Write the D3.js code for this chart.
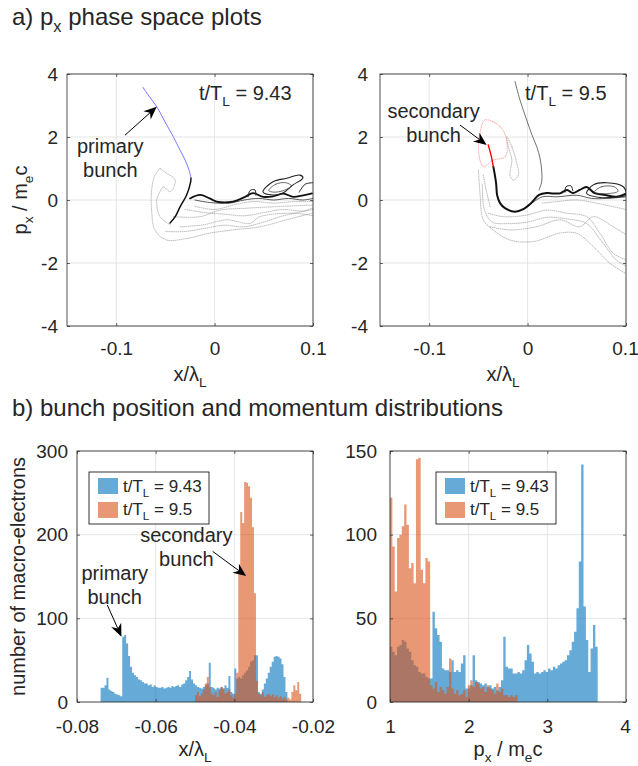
<!DOCTYPE html>
<html>
<head>
<meta charset="utf-8">
<script src="https://cdn.jsdelivr.net/npm/d3@7"></script>
<style>
  body { margin: 0; background: #fff; }
  text { font-family: "Liberation Sans", Arial, Helvetica, sans-serif; fill: #262626; }
</style>
</head>
<body>
<div id="chart"></div>
<script>
const width = 638
const height = 766

// ---------- ticks ----------
const phaseXTicks = [-0.1, 0, 0.1]
const phasePTicks = [-4, -2, 0, 2, 4]
const posXTicks = [-0.08, -0.06, -0.04, -0.02]
const posYTicks = [0, 100, 200, 300]
const momXTicks = [1, 2, 3, 4]
const momYTicks = [0, 50, 100, 150]
const times = ["9.43", "9.5"]

// ---------- a) phase space, t/TL = 9.43  ([x/lambda, px/mec]) ----------
const primaryBunch943 = [[-0.073,3.58],[-0.0667,3.30],[-0.0588,2.96],[-0.0504,2.48],[-0.042,2.01],[-0.0352,1.59],[-0.030,1.27],[-0.026,0.95],[-0.024,0.70]]
const spine943 = [[-0.024,0.70],[-0.0245,0.55],[-0.0284,0.16],[-0.035,-0.21],[-0.040,-0.53],[-0.0453,-0.73]]
const band943 = [[-0.025,0.05],[-0.0148,0.16],[-0.005,0.05],[0.002,-0.05],[0.0187,-0.05],[0.031,0.1],[0.039,0.22],[0.0495,0.1],[0.06,0.12],[0.07,0.2],[0.08,0.1],[0.09,0.15],[0.099,0.21]]
const band943b = [[-0.02,0.0],[-0.005,-0.08],[0.015,-0.1],[0.03,0.0],[0.045,0.05],[0.06,0.0],[0.075,0.05],[0.09,0.0],[0.1,0.05]]
const loop943 = [[0.0492,0.26],[0.0593,0.58],[0.0733,0.69],[0.0868,0.79],[0.0898,0.70],[0.0797,0.48],[0.0695,0.22],[0.0593,0.16]]
const innerLoop943 = [[0.055,0.3],[0.062,0.5],[0.072,0.55],[0.078,0.45],[0.07,0.3],[0.06,0.25]]
const curls943 = [[0.034,0.1],[0.036,0.3],[0.041,0.32],[0.042,0.15]]
const edgeLoop943 = [[0.086,0.25],[0.092,0.5],[0.1,0.55]]
const outer943 = [[-0.0555,1.0],[-0.0606,0.79],[-0.064,0.32],[-0.064,-0.32],[-0.0606,-0.95],[-0.0487,-1.27],[-0.0284,-1.22],[-0.0047,-1.05],[0.0187,-0.95],[0.046,-0.85],[0.073,-0.63],[0.1,-0.41]]
const hook943 = [[-0.0555,1.0],[-0.0487,0.85],[-0.040,0.63],[-0.045,0.26],[-0.052,0.42],[-0.0555,0.26],[-0.0588,0],[-0.0555,-0.53],[-0.045,-0.79]]
const fil943a = [[-0.042,-0.53],[-0.0148,-0.53],[0.0055,-0.32],[0.0326,-0.26],[0.063,-0.21],[0.1,-0.16]]
const fil943b = [[-0.0352,-0.85],[-0.0115,-0.79],[0.0123,-0.63],[0.036,-0.74],[0.046,-0.53],[0.08,-0.42],[0.1,-0.5]]
const fil943c = [[-0.02,-0.2],[0.0,-0.3],[0.02,-0.15],[0.04,-0.05],[0.06,-0.1],[0.08,-0.05],[0.1,-0.05]]
const fil943d = [[-0.05,-1.0],[-0.03,-1.0],[-0.01,-0.9],[0.01,-0.8],[0.03,-0.85],[0.05,-0.7],[0.07,-0.5],[0.1,-0.3]]
const fil943e = [[-0.03,-0.3],[-0.01,-0.4],[0.01,-0.45],[0.03,-0.5],[0.05,-0.4],[0.07,-0.3],[0.09,-0.35],[0.1,-0.25]]

// ---------- a) phase space, t/TL = 9.5 ----------
const escaping95 = [[-0.0128,3.76],[-0.0077,3.17],[-0.0009,2.54],[0.0045,2.06],[0.0093,1.69],[0.0126,1.33],[0.0143,0.95],[0.0143,0.58],[0.0116,0.32]]
const secondaryBunch95 = [[-0.0348,1.06],[-0.037,1.4],[-0.040,1.75]]
const spine95 = [[-0.0348,1.06],[-0.032,0.53],[-0.031,0.16],[-0.028,-0.1],[-0.023,-0.26],[-0.0128,-0.37],[-0.0044,-0.29],[0.0035,-0.1],[0.0116,0.16],[0.0194,0.22],[0.0258,0.21],[0.033,0.21],[0.040,0.32],[0.046,0.22],[0.053,0.32],[0.060,0.41],[0.068,0.22],[0.0787,0.16],[0.09,0.1],[0.1,0.2]]
const band95b = [[0.0,-0.2],[0.015,0.1],[0.03,0.1],[0.05,0.15],[0.065,0.05],[0.08,0.05],[0.1,0.1]]
const loop95 = [[0.06,0.21],[0.0668,0.48],[0.0804,0.55],[0.0973,0.42],[0.1,0.16],[0.0905,0.1],[0.0736,0.08]]
const innerLoop95 = [[0.068,0.25],[0.075,0.42],[0.088,0.42],[0.092,0.28],[0.08,0.2]]
const curl95 = [[0.038,0.25],[0.039,0.42],[0.044,0.45],[0.046,0.3]]
const redCloud95 = [[-0.0433,2.54],[-0.028,2.33],[-0.0212,1.9],[-0.023,1.37],[-0.0348,1.27],[-0.045,1.06],[-0.050,1.59],[-0.0484,2.12]]
const tongue95 = [[-0.0212,2.01],[-0.016,1.69],[-0.011,1.16],[-0.0094,0.79],[-0.0145,0.63],[-0.0179,0.79],[-0.016,1.27],[-0.0196,1.69]]
const outer95 = [[-0.050,0.95],[-0.0484,0.21],[-0.045,-0.63],[-0.035,-0.95],[-0.0179,-1.27],[0.0058,-1.32],[0.033,-1.05],[0.05,-1.06],[0.0668,-1.48],[0.0837,-2.01],[0.099,-2.32]]
const fil95a = [[-0.040,-0.42],[-0.0247,-0.53],[-0.0009,-0.48],[0.0194,-0.32],[0.0397,-0.42],[0.06,-0.53],[0.0736,-1.06],[0.087,-1.69],[0.1,-1.9]]
const fil95b = [[-0.0382,-0.85],[-0.018,-0.95],[0.009,-0.85],[0.033,-0.63],[0.053,-0.85],[0.0668,-0.53],[0.087,-0.85],[0.1,-1.1]]
const fil95c = [[0.015,-0.1],[0.03,-0.05],[0.05,0.0],[0.07,-0.1],[0.085,-0.2],[0.1,-0.3]]
const fil95d = [[-0.046,0.5],[-0.044,-0.3],[-0.036,-0.7],[-0.02,-0.75],[0.0,-0.7],[0.02,-0.55],[0.04,-0.6],[0.06,-0.75],[0.075,-1.3],[0.09,-1.9],[0.1,-2.1]]
const hook95 = [[-0.045,0.79],[-0.042,0.3],[-0.038,-0.21]]

// ---------- b) histograms (counts per bin) ----------
const posBinWidth = 0.0005
const posStart943 = -0.074
const posCounts943 = [17,17,20,29,15,13,12,10,9,8, 7,78,80,70,55,42,35,32,30,27, 26,24,22,22,20,21,18,20,18,17,
  17,18,16,17,18,17,19,18,19,20, 18,21,22,26,30,37,27,22,20,18, 17,16,18,20,22,47,18,17,15,17,
  16,18,16,20,17,31,12,10,40,28, 30,28,32,35,38,42,48,50,56,56, 12,10,15,22,28,35,42,48,54,55,
  54,52,45,30,12]
const posStart95 = -0.05
const posCounts95 = [8,12,7,10,15,22,30,18,10,8, 12,6,14,18,16,10,12,15,8,5, 10,35,154,227,214,263,262,258,244,209,
  130,25,10,8,12,6,8,10,7,9, 6,8,5,7,4,6,3,5,3,12, 20,14,24,10]

const momBinWidth = 0.03
const momStart = 1
const momCounts943 = [33,30,28,33,34,37,36,32,30,25, 22,21,18,17,17,15,14,14,54,44, 40,36,20,19,19,18,25,18,19,18,
  23,28,8,8,10,28,13,12,11,10, 11,9,10,8,9,7,9,13,39,21, 20,20,17,17,18,17,19,25,34,29,
  24,17,18,17,18,19,18,20,19,21, 20,22,23,24,25,28,31,36,42,56, 84,142,57,37,18,32,46,33]
const momCounts95 = [122,93,66,98,100,105,118,106,80,83, 71,145,146,79,71,86,84,10,8,12, 6,9,7,5,9,26,8,5,7,4,
  5,7,3,10,13,9,12,11,8,9, 6,10,8,7,5,11,6,8,4,4, 3,4,3,4]

// ---------- layout ----------
const blue = "rgb(0,114,189)"
const orange = "rgb(217,83,25)"
const axisColor = "#262626"
const gridColor = "#dedede"

const boxA1 = {left: 67, right: 313, top: 74, bottom: 326}
const boxA2 = {left: 380, right: 626, top: 74, bottom: 326}
const boxB1 = {left: 77, right: 313, top: 451, bottom: 702}
const boxB2 = {left: 390, right: 626, top: 451, bottom: 702}

const svg = d3.select("#chart")
              .append("svg")
              .attr("width", width)
              .attr("height", height)

// text with sub-scripts: parts = [[string, isSub], ...]
function richText(g, x, y, parts, size, anchor) {
  const t = g.append("text")
             .attr("x", x)
             .attr("y", y)
             .attr("font-size", size)
             .attr("text-anchor", anchor || "start")
  let shift = 0
  parts.forEach(([s, sub]) => {
    const target = sub ? size * 0.3 : 0
    t.append("tspan")
     .attr("dy", target - shift)
     .attr("font-size", sub ? size * 0.68 : size)
     .text(s)
    shift = target
  })
  return t
}

function makeScales(box, xDom, yDom) {
  const x = d3.scaleLinear().domain(xDom).range([box.left, box.right])
  const y = d3.scaleLinear().domain(yDom).range([box.bottom, box.top])
  return {x, y}
}

function drawGrid(box, s, xTicks, yTicks) {
  const g = svg.append("g")
  g.selectAll("line.gx")
   .data(xTicks)
   .enter()
   .append("line")
   .attr("x1", d => s.x(d)).attr("x2", d => s.x(d))
   .attr("y1", box.top).attr("y2", box.bottom)
   .attr("stroke", gridColor).attr("stroke-width", 0.8)
  g.selectAll("line.gy")
   .data(yTicks)
   .enter()
   .append("line")
   .attr("y1", d => s.y(d)).attr("y2", d => s.y(d))
   .attr("x1", box.left).attr("x2", box.right)
   .attr("stroke", gridColor).attr("stroke-width", 0.8)
}

function drawFrame(box, s, xTicks, yTicks, xPad, yPad) {
  const fmt = d => String(d)
  const style = g => {
    g.select(".domain").remove()
    g.attr("font-size", 19).attr("font-family", null).attr("color", axisColor)
    g.selectAll("line").attr("stroke-width", 0.7)
  }
  const bottom = svg.append("g").attr("transform", `translate(0,${box.bottom})`)
     .call(d3.axisBottom(s.x).tickValues(xTicks).tickSize(-3).tickSizeOuter(0).tickPadding(xPad).tickFormat(fmt))
     .call(style)
  // keep the last label inside the page
  bottom.selectAll("text").filter(d => s.x(d) + 14 > width).attr("dx", width - 13 - s.x(xTicks[xTicks.length - 1]))
  svg.append("g").attr("transform", `translate(0,${box.top})`)
     .call(d3.axisTop(s.x).tickValues(xTicks).tickSize(-3).tickSizeOuter(0).tickFormat(""))
     .call(style)
  svg.append("g").attr("transform", `translate(${box.left},0)`)
     .call(d3.axisLeft(s.y).tickValues(yTicks).tickSize(-3).tickSizeOuter(0).tickPadding(yPad).tickFormat(fmt))
     .call(style)
  svg.append("g").attr("transform", `translate(${box.right},0)`)
     .call(d3.axisRight(s.y).tickValues(yTicks).tickSize(-3).tickSizeOuter(0).tickFormat(""))
     .call(style)
  svg.append("rect")
     .attr("x", box.left).attr("y", box.top)
     .attr("width", box.right - box.left).attr("height", box.bottom - box.top)
     .attr("fill", "none").attr("stroke", axisColor).attr("stroke-width", 0.8)
}

function drawCurves(box, s, list, id) {
  svg.append("clipPath").attr("id", id)
     .append("rect")
     .attr("x", box.left).attr("y", box.top)
     .attr("width", box.right - box.left).attr("height", box.bottom - box.top)
  const g = svg.append("g").attr("clip-path", `url(#${id})`)
  list.forEach(c => {
    const line = d3.line()
                   .x(d => s.x(d[0]))
                   .y(d => s.y(d[1]))
                   .curve(c.closed ? d3.curveCatmullRomClosed : d3.curveCatmullRom)
    g.append("path")
     .datum(c.pts)
     .attr("d", line)
     .attr("fill", "none")
     .attr("stroke", c.color)
     .attr("stroke-width", c.w)
     .attr("stroke-dasharray", c.dash || null)
     .attr("stroke-linecap", "round")
  })
}

function histArea(s, start, bw, counts, color) {
  const pts = counts.map((c, i) => [start + i * bw, c])
  pts.push([start + counts.length * bw, counts[counts.length - 1]])
  const area = d3.area()
                 .x(d => s.x(d[0]))
                 .y0(s.y(0))
                 .y1(d => s.y(d[1]))
                 .curve(d3.curveStepAfter)
  svg.append("path").datum(pts).attr("d", area).attr("fill", color).attr("fill-opacity", 0.6)
}

function arrow(s, from, to) {
  const x1 = s.x(from[0]), y1 = s.y(from[1]), x2 = s.x(to[0]), y2 = s.y(to[1])
  const a = Math.atan2(y2 - y1, x2 - x1)
  const L = 13, hw = 5.5, notch = 9
  const pt = (d, o) => [x2 - d * Math.cos(a) - o * Math.sin(a), y2 - d * Math.sin(a) + o * Math.cos(a)]
  const nx = pt(notch, 0)
  svg.append("line")
     .attr("x1", x1).attr("y1", y1).attr("x2", nx[0]).attr("y2", nx[1])
     .attr("stroke", "#000").attr("stroke-width", 1)
  svg.append("polygon")
     .attr("points", [[x2, y2], pt(L, hw), nx, pt(L, -hw)].map(p => p.join(",")).join(" "))
     .attr("fill", "#000")
}

function label(s, at, lines) {
  lines.forEach((txt, i) => {
    svg.append("text")
       .attr("x", s.x(at[0]))
       .attr("y", s.y(at[1]) + i * 24)
       .attr("font-size", 20)
       .attr("text-anchor", "middle")
       .attr("fill", "#000")
       .text(txt)
  })
}

function legend(box, dx, dy) {
  const g = svg.append("g").attr("transform", `translate(${box.left + dx},${box.top + dy})`)
  g.append("rect").attr("width", 120).attr("height", 52)
   .attr("fill", "#fff").attr("stroke", "#000").attr("stroke-width", 0.8)
  const cols = [blue, orange]
  times.forEach((t, i) => {
    g.append("rect").attr("x", 9).attr("y", 6 + i * 24).attr("width", 20).attr("height", 16)
     .attr("fill", cols[i]).attr("fill-opacity", 0.6)
    richText(g, 34, 20 + i * 23, [["t/T", false], ["L", true], [" = " + t, false]], 17)
  })
}

// ---------- titles ----------
richText(svg, 12, 25, [["a) p", false], ["x", true], [" phase space plots", false]], 24)
richText(svg, 12, 416, [["b) bunch position and momentum distributions", false]], 24)

const grey = "#8a8a8a", dots = "0.8 1.3"
const g6 = {color: grey, w: 0.6, dash: dots}

// ---------- a) left ----------
const sA1 = makeScales(boxA1, [-0.15, 0.1], [-4, 4])
drawGrid(boxA1, sA1, phaseXTicks, phasePTicks)
drawCurves(boxA1, sA1, [
  {...g6, pts: outer943},
  {...g6, pts: hook943},
  {...g6, pts: fil943a},
  {...g6, pts: fil943b},
  {...g6, pts: fil943c},
  {...g6, pts: fil943d},
  {...g6, pts: fil943e},
  {pts: band943b, color: "#333", w: 0.8},
  {pts: band943, color: "#111", w: 1.8},
  {pts: loop943, color: "#222", w: 1.1, closed: true},
  {pts: innerLoop943, color: "#444", w: 0.8, closed: true},
  {pts: curls943, color: "#222", w: 1},
  {pts: edgeLoop943, color: "#222", w: 1},
  {pts: spine943, color: "#111", w: 1.5},
  {pts: primaryBunch943, color: "#6a6aff", w: 0.9}
], "clipA1")
drawFrame(boxA1, sA1, phaseXTicks, phasePTicks, 16, 9)
richText(svg, sA1.x(-0.0159), sA1.y(3.17), [["t/T", false], ["L", true], [" = " + times[0], false]], 20)
label(sA1, [-0.106, 1.49], ["primary", "bunch"])
arrow(sA1, [-0.091, 2.06], [-0.0588, 2.96])

// ---------- a) right ----------
const sA2 = makeScales(boxA2, [-0.15, 0.1], [-4, 4])
drawGrid(boxA2, sA2, phaseXTicks, phasePTicks)
drawCurves(boxA2, sA2, [
  {...g6, pts: outer95},
  {...g6, pts: fil95a},
  {...g6, pts: fil95b},
  {...g6, pts: fil95c},
  {...g6, pts: fil95d},
  {...g6, pts: hook95},
  {...g6, pts: tongue95, closed: true},
  {pts: redCloud95, color: "#ff7070", w: 0.6, dash: dots, closed: true},
  {pts: escaping95, color: "#333", w: 0.7},
  {pts: band95b, color: "#333", w: 0.8},
  {pts: spine95, color: "#111", w: 2},
  {pts: loop95, color: "#222", w: 1.1, closed: true},
  {pts: innerLoop95, color: "#444", w: 0.8, closed: true},
  {pts: curl95, color: "#222", w: 1},
  {pts: secondaryBunch95, color: "#ff0000", w: 1.4}
], "clipA2")
drawFrame(boxA2, sA2, phaseXTicks, phasePTicks, 16, 12)
richText(svg, sA2.x(-0.0026), sA2.y(3.17), [["t/T", false], ["L", true], [" = " + times[1], false]], 20)
label(sA2, [-0.0956, 2.6], ["secondary", "bunch"])
arrow(sA2, [-0.0687, 2.38], [-0.0416, 1.75])

// axis labels, top row
const pLabel = [["p", false], ["x", true], [" / m", false], ["e", true], ["c", false]]
richText(svg, 0, 0, pLabel, 20, "middle").attr("transform", `translate(27,${(boxA1.top + boxA1.bottom) / 2}) rotate(-90)`)
const xLabel = [["x/λ", false], ["L", true]]
richText(svg, (boxA1.left + boxA1.right) / 2, 381, xLabel, 20, "middle")
richText(svg, (boxA2.left + boxA2.right) / 2, 381, xLabel, 20, "middle")

// ---------- b) left ----------
const sB1 = makeScales(boxB1, [-0.08, -0.02], [0, 300])
drawGrid(boxB1, sB1, posXTicks, posYTicks)
histArea(sB1, posStart943, posBinWidth, posCounts943, blue)
histArea(sB1, posStart95, posBinWidth, posCounts95, orange)
drawFrame(boxB1, sB1, posXTicks, posYTicks, 18, 9)
legend(boxB1, 12, 21)
label(sB1, [-0.0704, 146], ["primary", "bunch"])
arrow(sB1, [-0.0723, 116], [-0.0687, 78])
label(sB1, [-0.0522, 191], ["secondary", "bunch"])
arrow(sB1, [-0.0455, 180], [-0.037, 150.6])

// ---------- b) right ----------
const sB2 = makeScales(boxB2, [1, 4], [0, 150])
drawGrid(boxB2, sB2, momXTicks, momYTicks)
histArea(sB2, momStart, momBinWidth, momCounts943, blue)
histArea(sB2, momStart, momBinWidth, momCounts95, orange)
drawFrame(boxB2, sB2, momXTicks, momYTicks, 18, 13)
legend(boxB2, 46, 21)

richText(svg, 0, 0, [["number of macro-electrons", false]], 20, "middle")
  .attr("transform", `translate(25,${(boxB1.top + boxB1.bottom) / 2}) rotate(-90)`)
richText(svg, (boxB1.left + boxB1.right) / 2, 756, xLabel, 20, "middle")
richText(svg, (boxB2.left + boxB2.right) / 2, 756, pLabel, 20, "middle")
</script>
</body>
</html>
